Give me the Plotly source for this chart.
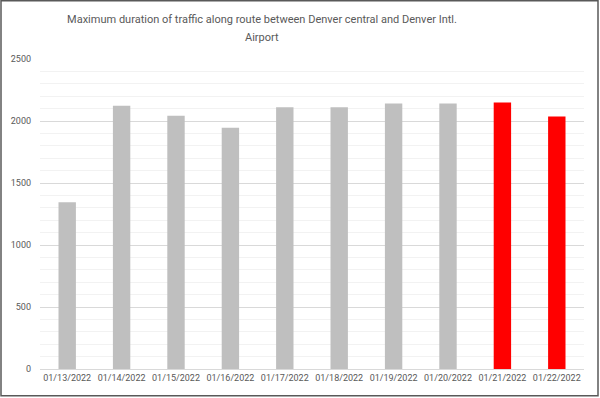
import plotly.graph_objects as go

dates = ["01/13/2022", "01/14/2022", "01/15/2022", "01/16/2022", "01/17/2022",
         "01/18/2022", "01/19/2022", "01/20/2022", "01/21/2022", "01/22/2022"]
durations = [1345, 2123, 2043, 1946, 2110, 2110, 2142, 2142, 2150, 2037]
highlight = [False] * 8 + [True] * 2
colors = ["#ff0000" if h else "#bfbfbf" for h in highlight]
title_line1 = "Maximum duration of traffic along route between Denver central and Denver Intl."
title_line2 = "Airport"

FONT = "Roboto, sans-serif"

fig = go.Figure(go.Bar(x=dates, y=durations, marker=dict(color=colors, line=dict(width=0)),
                       width=0.32))

L, R, T, B = 40, 16, 59.3, 28.7
W, H = 600, 398
pw, ph = W - L - R, H - T - B
TX = 262

fig.update_layout(
    width=W, height=H,
    margin=dict(l=L, r=R, t=T, b=B),
    paper_bgcolor="white", plot_bgcolor="white",
    font=dict(family=FONT, color="#595959", size=9),
    title=dict(text=title_line1,
               x=TX / W, xanchor="center", y=1 - 19 / H, yanchor="middle",
               font=dict(family=FONT, size=11, color="#595959")),
    annotations=[dict(text=title_line2, xref="paper", yref="paper",
                      x=(TX - L) / pw, y=(H - B - 38) / ph, xanchor="center", yanchor="middle",
                      showarrow=False, font=dict(family=FONT, size=11, color="#595959"))],
    showlegend=False,
    bargap=0.68,
    xaxis=dict(type="category", showgrid=False, showline=True, linecolor="#d9d9d9", linewidth=1,
               ticks="", tickfont=dict(size=9, color="#595959"), tickangle=0),
    yaxis=dict(range=[0, 2500], tickvals=[0, 500, 1000, 1500, 2000, 2500],
               showgrid=True, gridcolor="#d9d9d9", gridwidth=1, zeroline=False,
               minor=dict(dtick=100, showgrid=True, gridcolor="#f2f2f2", gridwidth=1),
               ticks="", tickfont=dict(size=9, color="#595959"), ticklabelstandoff=8),
    shapes=[dict(type="rect", xref="paper", yref="paper",
                 x0=(1 - L) / pw, x1=(598 - L) / pw,
                 y0=(H - B - 396) / ph, y1=(H - B - 1) / ph,
                 line=dict(color="#595959", width=1.5), fillcolor="rgba(0,0,0,0)", layer="above")],
)

fig.write_html("out.html", config={"displayModeBar": False},
               post_script="document.body.style.margin='0';document.body.style.overflow='hidden';")
